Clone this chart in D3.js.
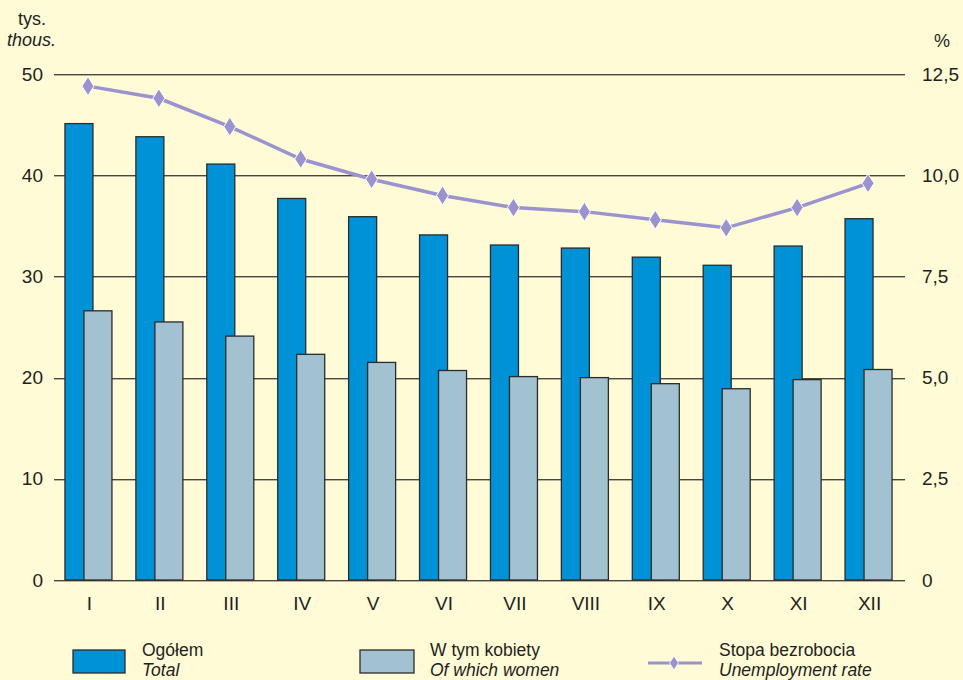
<!DOCTYPE html>
<html>
<head>
<meta charset="utf-8">
<script src="https://cdn.jsdelivr.net/npm/d3@7"></script>
<style>
  body { margin: 0; background: #fffbd7; }
  text { font-family: "Liberation Sans", Arial, sans-serif; fill: #231f20; }
</style>
</head>
<body>
<div id="chart"></div>
<script>
var months = ["I", "II", "III", "IV", "V", "VI", "VII", "VIII", "IX", "X", "XI", "XII"];
var total = [45.1, 43.8, 41.1, 37.7, 35.9, 34.1, 33.1, 32.8, 31.9, 31.1, 33.0, 35.7];
var women = [26.6, 25.5, 24.1, 22.3, 21.5, 20.7, 20.1, 20.0, 19.4, 18.9, 19.8, 20.8];
var rate = [12.2, 11.9, 11.2, 10.4, 9.9, 9.5, 9.2, 9.1, 8.9, 8.7, 9.2, 9.8];
var leftTicks = [0, 10, 20, 30, 40, 50];
var rightTicks = [0, 2.5, 5, 7.5, 10, 12.5];

var W = 963, H = 680;
var margin = {top: 74, right: 58, bottom: 100, left: 54},
    width = W - margin.left - margin.right,
    height = H - margin.top - margin.bottom;

var svg = d3.select("#chart")
  .append("svg")
    .attr("width", W)
    .attr("height", H);

svg.append("rect").attr("width", W).attr("height", H).attr("fill", "#fffbd7");

var g = svg.append("g")
    .attr("transform", "translate(" + margin.left + "," + margin.top + ")");

var x = d3.scaleBand()
  .domain(months)
  .range([0, width]);

var y = d3.scaleLinear()
  .domain([0, 50])
  .range([height, 0]);

var y2 = d3.scaleLinear()
  .domain([0, 12.5])
  .range([height, 0]);

// gridlines (with a faint shadow under each)
g.append("g")
  .selectAll("line")
  .data(leftTicks)
  .enter()
  .append("line")
    .attr("x1", 0)
    .attr("x2", width)
    .attr("y1", function(d) { return Math.round(y(d)) + 1.5; })
    .attr("y2", function(d) { return Math.round(y(d)) + 1.5; })
    .style("stroke", "#b8b29a")
    .style("stroke-width", 1);
g.append("g")
  .selectAll("line")
  .data(leftTicks)
  .enter()
  .append("line")
    .attr("x1", 0)
    .attr("x2", width)
    .attr("y1", function(d) { return Math.round(y(d)) + 0.5; })
    .attr("y2", function(d) { return Math.round(y(d)) + 0.5; })
    .style("stroke", "#4a4741")
    .style("stroke-width", 1.2);

// left axis
var yAxis = g.append("g")
  .call(d3.axisLeft(y).tickValues(leftTicks).tickSize(0).tickPadding(11));
yAxis.select(".domain").remove();
yAxis.selectAll("text").style("font-size", "19px").style("fill", "#231f20");

// right axis
var yAxis2 = g.append("g")
  .attr("transform", "translate(" + width + ",0)")
  .call(d3.axisRight(y2).tickValues(rightTicks).tickSize(0).tickPadding(17)
    .tickFormat(function(d) { return d === 0 ? "0" : d3.format(".1f")(d).replace(".", ","); }));
yAxis2.select(".domain").remove();
yAxis2.selectAll("text").style("font-size", "19px").style("fill", "#231f20").attr("text-anchor", "start");

// bottom axis
var xAxis = g.append("g")
  .attr("transform", "translate(0," + height + ")")
  .call(d3.axisBottom(x).tickSize(0).tickPadding(17));
xAxis.select(".domain").remove();
xAxis.selectAll("text").style("font-size", "19px").style("fill", "#231f20");

var bw = 28;
var bars = g.append("g");

// total bars (behind)
bars.selectAll(".total")
  .data(total)
  .enter()
  .append("rect")
    .attr("x", function(d, i) { return x(months[i]) + x.bandwidth() / 2 - 24.5; })
    .attr("y", function(d) { return y(d); })
    .attr("width", bw)
    .attr("height", function(d) { return height - y(d); })
    .style("fill", "#0092d6")
    .style("stroke", "#2b2b2b")
    .style("stroke-width", 1.3);

// women bars (front)
bars.selectAll(".women")
  .data(women)
  .enter()
  .append("rect")
    .attr("x", function(d, i) { return x(months[i]) + x.bandwidth() / 2 - 5.5; })
    .attr("y", function(d) { return y(d); })
    .attr("width", bw)
    .attr("height", function(d) { return height - y(d); })
    .style("fill", "#a3c2d1")
    .style("stroke", "#2b2b2b")
    .style("stroke-width", 1.3);

// rate line
var line = d3.line()
  .x(function(d, i) { return x(months[i]) + x.bandwidth() / 2 - 1.5; })
  .y(function(d) { return y2(d); });

g.append("path")
  .datum(rate)
  .attr("d", line)
  .style("fill", "none")
  .style("stroke", "#9b93ce")
  .style("stroke-width", 3.5);

var diamond = "M0,-9.5L6,0L0,9.5L-6,0Z";
g.append("g")
  .selectAll("path")
  .data(rate)
  .enter()
  .append("path")
    .attr("d", diamond)
    .attr("transform", function(d, i) { return "translate(" + (x(months[i]) + x.bandwidth() / 2 - 1.5) + "," + y2(d) + ")"; })
    .style("fill", "#9b93ce")
    .style("stroke", "#ffffff")
    .style("stroke-width", 1);

// unit labels
svg.append("text").attr("x", 18).attr("y", 25).style("font-size", "18px").text("tys.");
svg.append("text").attr("x", 7).attr("y", 46).style("font-size", "18px").style("font-style", "italic").text("thous.");
svg.append("text").attr("x", 934).attr("y", 47).style("font-size", "18px").text("%");

// legend
var lg = svg.append("g");
lg.append("rect").attr("x", 73).attr("y", 650).attr("width", 52).attr("height", 23)
  .style("fill", "#0092d6").style("stroke", "#2b2b2b").style("stroke-width", 1.3);
lg.append("text").attr("x", 142).attr("y", 656).style("font-size", "17.5px").text("Ogółem");
lg.append("text").attr("x", 142).attr("y", 675.5).style("font-size", "17.5px").style("font-style", "italic").text("Total");

lg.append("rect").attr("x", 360).attr("y", 650).attr("width", 54).attr("height", 23)
  .style("fill", "#a3c2d1").style("stroke", "#2b2b2b").style("stroke-width", 1.3);
lg.append("text").attr("x", 430).attr("y", 656).style("font-size", "17.5px").text("W tym kobiety");
lg.append("text").attr("x", 430).attr("y", 675.5).style("font-size", "17.5px").style("font-style", "italic").text("Of which women");

lg.append("line").attr("x1", 648).attr("x2", 702).attr("y1", 663).attr("y2", 663)
  .style("stroke", "#9b93ce").style("stroke-width", 3);
lg.append("path").attr("d", "M0,-7L4.5,0L0,7L-4.5,0Z").attr("transform", "translate(674,663)")
  .style("fill", "#9b93ce").style("stroke", "#ffffff").style("stroke-width", 0.8);
lg.append("text").attr("x", 719).attr("y", 656).style("font-size", "17.5px").text("Stopa bezrobocia");
lg.append("text").attr("x", 719).attr("y", 675.5).style("font-size", "17.5px").style("font-style", "italic").text("Unemployment rate");
</script>
</body>
</html>
